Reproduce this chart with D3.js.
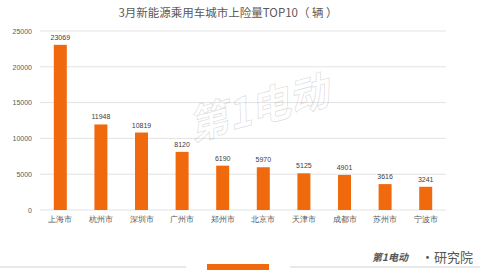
<!DOCTYPE html>
<html>
<head>
<meta charset="utf-8">
<script src="https://cdn.jsdelivr.net/npm/d3@7"></script>
<style>
  body { margin: 0; background: #fff; }
  svg { font-family: "Noto Sans CJK SC", "Noto Sans", sans-serif; }
</style>
</head>
<body>
<div id="chart" style="width:480px;height:275px"></div>
<script>
const cities = ["上海市", "杭州市", "深圳市", "广州市", "郑州市", "北京市", "天津市", "成都市", "苏州市", "宁波市"];
const values = [23069, 11948, 10819, 8120, 6190, 5970, 5125, 4901, 3616, 3241];
const yTicks = [0, 5000, 10000, 15000, 20000, 25000];

const W = 480, H = 275;
const margin = {top: 31, right: 34, bottom: 65, left: 40};
const width = W - margin.left - margin.right;
const height = H - margin.top - margin.bottom;

const root = d3.select("#chart").append("svg")
    .attr("width", W)
    .attr("height", H);

const svg = root.append("g")
    .attr("transform", `translate(${margin.left}, ${margin.top})`);

const x = d3.scaleBand()
    .domain(cities)
    .range([0, width])
    .paddingInner(0.68)
    .paddingOuter(0.34);

const y = d3.scaleLinear()
    .domain([0, 25000])
    .range([height, 0]);

// grid
svg.append("g")
    .selectAll("line")
    .data(yTicks)
    .enter()
    .append("line")
    .attr("x1", 0)
    .attr("x2", width)
    .attr("y1", d => y(d))
    .attr("y2", d => y(d))
    .attr("stroke", "#e3e3e3")
    .attr("stroke-width", 1);

// y axis
const yAxis = svg.append("g")
    .call(d3.axisLeft(y).tickValues(yTicks).tickSize(0).tickPadding(8).tickFormat(d3.format("d")));
yAxis.select(".domain").remove();
yAxis.selectAll("text")
    .attr("fill", "#595959")
    .style("font-size", "7px")
    .style("font-family", "Liberation Sans, Arial, sans-serif");

// x axis
const xAxis = svg.append("g")
    .attr("transform", `translate(0, ${height})`)
    .call(d3.axisBottom(x).tickSize(0).tickPadding(7));
xAxis.select(".domain").remove();
xAxis.selectAll("text")
    .attr("fill", "#595959")
    .style("font-size", "7.5px");

// watermark (outlined, faint)
root.append("text")
    .attr("x", 262)
    .attr("y", 122)
    .attr("text-anchor", "middle")
    .attr("transform", "rotate(-15, 262, 122)")
    .attr("fill", "none")
    .attr("stroke", "#000")
    .attr("stroke-opacity", 0.12)
    .attr("stroke-width", 1)
    .style("font-size", "40px")
    .style("font-weight", "bold")
    .style("font-style", "italic")
    .text("第1电动");

// bars
svg.selectAll(".bar")
    .data(values)
    .enter()
    .append("rect")
    .attr("class", "bar")
    .attr("x", (d, i) => x(cities[i]))
    .attr("y", d => y(d))
    .attr("width", x.bandwidth())
    .attr("height", d => height - y(d))
    .attr("fill", "#f0690c");

// value labels
svg.selectAll(".val")
    .data(values)
    .enter()
    .append("text")
    .attr("class", "val")
    .attr("x", (d, i) => x(cities[i]) + x.bandwidth() / 2)
    .attr("y", d => y(d) - 5)
    .attr("text-anchor", "middle")
    .attr("fill", "#404040")
    .style("font-size", "7px")
    .style("font-family", "Liberation Sans, Arial, sans-serif")
    .text(d => d);

// title
root.append("text")
    .attr("x", 228)
    .attr("y", 17)
    .attr("text-anchor", "middle")
    .attr("fill", "#595959")
    .style("font-size", "11.5px")
    .text("3月新能源乘用车城市上险量TOP10（ 辆 ）");

// footer
root.append("line")
    .attr("x1", 0).attr("x2", 186)
    .attr("y1", 267).attr("y2", 267)
    .attr("stroke", "#e0e0e0").attr("stroke-width", 1.5);
root.append("line")
    .attr("x1", 290).attr("x2", 480)
    .attr("y1", 267).attr("y2", 267)
    .attr("stroke", "#e0e0e0").attr("stroke-width", 1.5);
root.append("rect")
    .attr("x", 207).attr("y", 264)
    .attr("width", 62).attr("height", 6)
    .attr("fill", "#f0690c");

root.append("text")
    .attr("x", 372)
    .attr("y", 261)
    .attr("fill", "#555")
    .style("font-size", "10px")
    .style("font-weight", "bold")
    .style("font-style", "italic")
    .text("第1电动");
root.append("text")
    .attr("x", 473)
    .attr("y", 262)
    .attr("text-anchor", "end")
    .attr("fill", "#555")
    .style("font-size", "13px")
    .text("·研究院");
</script>
</body>
</html>
